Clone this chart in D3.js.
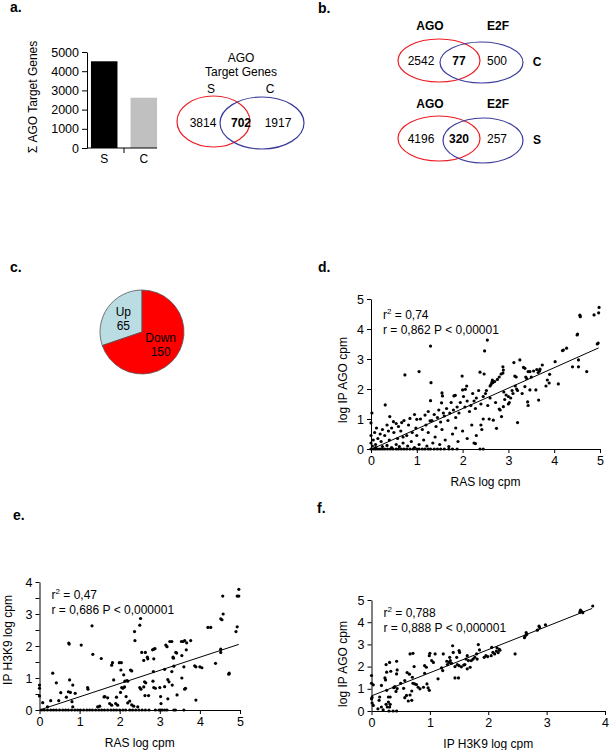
<!DOCTYPE html>
<meta charset="utf-8">
<style>
body { margin: 0; background: #fff; }
svg { display: block; }
text { font-family: "Liberation Sans", Arial, sans-serif; font-size: 12px; fill: #000; }
.letter { font-weight: bold; font-size: 14px; }
.bold { font-weight: bold; }
.axis text { font-family: "Liberation Sans", Arial, sans-serif; font-size: 12.5px; }
.axis path, .axis line { stroke: #000; stroke-width: 1; }
.dot { fill: #000; }
.fit { stroke: #000; stroke-width: 1; fill: none; }
</style>
<svg width="611" height="750"></svg>
<script src="https://d3js.org/d3.v7.min.js"></script>
<script>

// ---- data ----
var barCats = ["S", "C"];
var barVals = [4516, 2619];
var barTicks = [0, 1000, 2000, 3000, 4000, 5000];

var vennA = [3814, 702, 1917];   // S only, both, C only
var vennC = [2542, 77, 500];     // AGO only, both, E2F only (C)
var vennS = [4196, 320, 257];    // AGO only, both, E2F only (S)

var pieCats = ["Up", "Down"];
var pieVals = [65, 150];

var dStats = ["0,74", "r = 0,862 P < 0,00001"];
var eStats = ["0,47", "r = 0,686 P < 0,000001"];
var fStats = ["0,788", "r = 0,888 P < 0,000001"];

var dLine = [[0.05, 0.02], [4.97, 3.37]];
var eLine = [[0.0, 0.0], [4.97, 2.05]];
var fLine = [[0.0, 0.68], [3.78, 4.62]];

var dPoints = [
  [0.02,1.20],[0.00,0.87],[0.31,1.47],[0.41,1.08],[0.49,0.91],[0.74,2.47],[1.05,2.58],[1.30,3.43],[1.31,2.21],[1.30,1.61],
  [1.54,1.54],[1.55,1.87],[1.56,1.77],[1.81,1.77],[1.84,1.79],[1.99,2.43],[2.06,1.99],[2.09,2.10],[2.00,1.97],[2.38,2.56],
  [2.48,3.27],[2.54,3.63],[2.47,2.50],[2.62,2.15],[2.64,2.22],[2.66,2.21],[2.70,2.25],[2.65,2.30],[2.60,2.10],[2.76,2.32],
  [2.80,2.40],[2.84,2.50],[2.88,2.53],[2.89,2.63],[2.88,2.74],[3.12,2.88],[3.25,2.97],[3.14,2.43],[3.17,2.40],[3.33,2.72],
  [3.36,2.69],[3.38,2.40],[3.40,2.35],[3.43,2.58],[3.47,2.58],[3.50,2.40],[3.55,2.60],[3.62,2.65],[3.65,2.55],[3.68,2.60],
  [3.69,2.66],[3.74,2.80],[3.85,2.30],[3.89,2.20],[3.82,2.10],[3.90,2.49],[4.02,2.91],[4.09,2.17],[4.18,3.28],[4.20,3.30],
  [4.27,3.36],[4.40,2.74],[4.50,3.80],[4.51,3.83],[4.53,2.97],[4.53,2.74],[4.56,4.46],[4.57,4.41],[4.71,2.58],[4.87,4.47],
  [4.94,3.50],[4.96,3.53],[4.97,4.54],[4.98,4.72],
  [3.66,1.63],[3.42,1.57],[3.43,1.45],[3.47,1.97],[3.60,1.97],[3.36,2.08],[3.30,1.85],[3.15,2.10],[3.18,2.00],[3.20,1.95],
  [3.10,1.85],[3.08,1.95],[3.05,1.70],[3.00,1.75],[2.95,1.80],[2.92,1.65],[2.90,1.90],[2.89,1.41],[2.82,1.30],[2.80,1.33],
  [3.00,1.50],[3.02,1.55],[2.85,1.08],[3.20,0.88],[2.58,1.00],[2.67,0.96],[2.74,0.69],[2.45,1.00],[2.40,0.80],[2.42,0.65],
  [2.72,1.55],[2.60,1.70],[2.55,1.45],[2.50,1.85],[2.52,1.95],[2.45,1.75],[2.40,1.50],[2.35,1.95],[2.30,1.70],[2.28,1.35],
  [2.25,1.60],[2.22,1.85],[2.18,1.45],[2.15,1.25],[2.10,1.60],[2.05,1.40],[2.02,1.75],[1.95,1.55],[1.92,1.20],[1.88,1.40],
  [1.85,1.05],[1.80,1.30],[1.75,1.55],[1.72,1.20],[1.68,0.95],[1.65,1.35],[1.60,1.10],[1.58,1.20],[1.52,0.90],[1.48,1.30],
  [1.45,1.05],[1.42,0.75],[1.38,1.15],[1.33,0.95],[1.29,0.94],[1.25,1.25],[1.20,0.80],[1.18,1.13],[1.12,0.65],[1.08,1.00],
  [1.00,0.99],[0.98,0.70],[0.95,1.15],[0.90,0.55],[0.85,1.02],[0.82,0.80],[0.78,0.45],[0.72,0.95],[0.67,0.88],[0.65,0.60],
  [0.60,0.75],[0.58,0.35],[0.55,0.85],[0.50,0.55],[0.45,0.70],[0.40,0.30],[0.38,0.60],[0.35,0.80],[0.30,0.45],[0.25,0.65],
  [0.22,0.25],[0.20,0.50],[0.15,0.35],[0.12,0.70],[0.10,0.15],[0.08,0.55],[0.05,0.30],[0.03,0.10],[0.00,0.45],[0.00,0.20],
  [0.10,0.05],[0.25,0.08],[0.35,0.12],[0.45,0.05],[0.55,0.15],[0.62,0.08],[0.70,0.20],[0.80,0.10],[0.88,0.25],[0.95,0.05],
  [1.05,0.15],[1.15,0.30],[1.22,0.10],[1.35,0.20],[1.40,0.40],[1.50,0.15],[1.62,0.30],[1.70,0.08],[1.78,0.50],[1.90,0.25],
  [2.00,0.60],[2.10,0.35],[2.20,0.80],[2.30,0.45],[1.00,0.45],[1.25,0.55],[1.55,0.65],[1.85,0.70],[0.70,0.40],[2.25,0.20],
  [2.28,0.18],
  [0.00,0],[0.05,0],[0.10,0],[0.15,0],[0.20,0],[0.25,0],[0.30,0],[0.36,0],[0.42,0],[0.48,0],[0.55,0],[0.60,0],[0.66,0],
  [0.72,0],[0.78,0],[0.85,0],[0.92,0],[1.00,0],[1.05,0],[1.12,0],[1.18,0],[1.25,0],[1.30,0],[1.38,0],[1.45,0],[1.52,0],
  [1.60,0],[1.70,0],[1.78,0],[1.88,0],[2.38,0],[2.45,0]
];

var ePoints = [
  [0.05,0],[0.12,0],[0.20,0],[0.28,0],[0.35,0],[0.42,0],[0.50,0],[0.58,0],[0.65,0],[0.72,0],[0.80,0],[0.88,0],[0.95,0],
  [1.02,0],[1.10,0],[1.18,0],[1.25,0],[1.32,0],[1.40,0],[1.48,0],[1.55,0],[1.62,0],[1.70,0],[1.78,0],[1.85,0],[1.92,0],
  [2.00,0],[2.08,0],[2.15,0],[2.25,0],[2.32,0],[2.40,0],[2.48,0],[2.56,0],[2.64,0],[2.73,0],[2.89,0],[2.98,0],[3.02,0],
  [3.06,0],[3.12,0],[3.18,0],[3.35,0],[3.39,0],[3.60,0],
  [0.00,0.78],[0.00,0.68],[0.00,0.44],[0.08,0.23],[0.20,0.10],[0.28,0.29],[0.33,1.15],[0.42,0.85],[0.48,0.29],[0.53,0.54],
  [0.67,0.40],[0.73,2.09],[0.74,2.06],[0.75,0.94],[0.72,0.57],[0.77,0.55],[0.83,0.78],[0.81,0.26],[0.83,0.10],[0.89,0.52],
  [1.04,2.03],[1.20,0.70],[1.21,0.65],[1.31,2.63],[1.33,1.74],[1.45,0.10],[1.54,1.61],[1.61,0.41],[1.63,0.42],[1.80,1.40],
  [1.82,1.48],[1.80,0.15],[1.85,0.94],[1.99,1.48],[2.04,1.48],[2.03,1.25],[2.05,0.70],[2.08,0.68],[2.12,0.72],[2.13,0.90],
  [2.16,0.42],[2.18,0.92],[2.27,1.25],[2.30,1.22],[2.30,0.16],[2.37,2.45],[2.38,2.17],[2.45,0.10],[2.52,2.86],[2.50,2.65],
  [2.55,1.80],[2.60,1.55],[2.50,0.70],[2.53,0.65],[2.60,0.72],[2.63,0.45],[2.64,1.80],[2.65,0.85],[2.62,0.88],[2.69,1.65],
  [2.70,1.60],[2.72,0.45],[2.83,0.90],[2.84,1.20],[2.85,1.90],[2.88,1.92],[2.82,1.88],[2.85,1.60],[2.85,0.70],[2.89,0.68],
  [3.00,0.70],[3.02,0.42],[3.03,0.20],[3.12,1.27],[3.12,0.73],[3.15,2.03],[3.18,1.98],[3.20,0.95],[3.23,0.88],[3.20,0.35],
  [3.25,2.14],[3.30,2.14],[3.30,1.20],[3.34,1.62],[3.33,1.65],[3.35,1.37],[3.31,0.78],[3.40,1.80],[3.42,1.78],[3.43,0.47],
  [3.54,2.14],[3.58,2.14],[3.55,1.70],[3.55,1.00],[3.60,1.35],[3.62,2.17],[3.64,0.68],[3.62,0.65],[3.66,1.88],[3.67,2.10],
  [3.77,2.17],[3.87,1.38],[3.90,1.35],[3.90,0.31],[4.00,1.35],[4.05,1.32],[4.20,2.58],[4.27,2.58],[4.39,1.46],[4.52,1.90],
  [4.52,1.80],[4.52,2.85],[4.55,2.82],[4.58,3.00],[4.57,3.56],[4.73,1.15],[4.72,1.12],[4.90,2.45],[4.93,2.60],[4.93,3.56],
  [4.97,3.56],[4.97,3.77],
  [1.90,0.20],[1.95,0.15],[2.20,0.22],[2.25,0.28],[2.35,0.12],[1.75,0.20],[1.50,0.12],[1.70,0.38],[1.92,0.40],[2.02,0.55],
  [2.10,1.10],[2.20,0.90]
];

var fPoints = [
  [3.79,4.73],[3.58,4.54],[3.60,4.48],[3.62,4.43],[3.57,4.45],[2.98,3.88],[2.87,3.82],[2.88,3.76],[2.84,3.64],[2.65,3.53],
  [2.66,3.45],[2.63,3.37],[2.62,3.30],[2.46,2.57],[2.15,2.85],[2.19,2.78],[2.14,2.70],[2.17,2.63],[2.20,2.74],[2.06,2.87],
  [2.08,2.64],[2.05,2.49],[2.11,2.57],[1.99,2.45],[1.93,2.42],[1.96,2.49],[1.83,2.99],[1.85,2.75],[1.80,2.57],[1.77,2.42],
  [1.81,2.34],[1.74,2.34],[1.71,2.27],[1.64,2.49],[1.62,2.34],[1.66,2.27],[1.58,2.07],[1.54,1.99],[1.60,2.09],[1.69,1.97],
  [1.64,1.90],[1.47,2.09],[1.50,2.04],[1.40,2.64],[1.46,2.42],[1.43,2.00],[1.34,2.42],[1.35,2.27],[1.33,2.19],[1.37,2.15],
  [1.29,2.24],[1.30,2.09],[1.39,2.94],[1.50,2.72],[1.51,2.64],[1.43,1.49],[1.49,1.49],[1.23,2.57],[1.20,1.94],[1.22,1.82],
  [1.14,1.45],[1.09,2.57],[1.03,2.27],[1.06,2.19],[1.00,2.60],[0.99,2.49],[0.94,1.97],[0.91,2.04],[0.91,1.70],[0.95,1.22],
  [0.97,1.04],[0.99,0.93],[0.89,1.07],[0.83,1.00],[0.80,1.07],[0.74,1.22],[0.71,1.25],[0.77,1.19],[0.70,1.52],[0.66,2.57],
  [0.71,2.60],[0.73,2.00],[0.61,1.73],[0.65,1.66],[0.69,0.90],[0.66,0.72],[0.57,1.37],[0.60,0.70],[0.57,0.60],[0.63,0.45],
  [0.69,0.48],[0.44,1.85],[0.43,1.67],[0.44,1.01],[0.42,0.88],[0.43,2.24],[0.32,0.63],[0.29,0.63],[0.25,2.09],[0.26,1.75],
  [0.23,1.49],[0.24,1.40],[0.31,2.19],[0.33,1.79],[0.17,1.15],[0.14,0.63],[0.13,0.48],[0.26,0.93],[0.29,0.40],[0.25,0.30],
  [0.27,0.18],[0.32,0.30],[0.31,0.18],[0.37,0.00],[0.43,0.00],[0.30,0.00],[0.00,1.60],[0.00,1.25],[0.03,1.18],[0.01,0.61],
  [0.00,0.55],[0.01,0.36],[0.03,0.25],[0.11,0.10],[0.17,0.18],[0.20,0.05],[0.38,1.05],[0.40,1.10],[0.50,1.25],[0.55,1.02]
];

var svg = d3.select("svg");

// panel letters
[["a.", 10, 12], ["b.", 318, 13], ["c.", 10, 272], ["d.", 318, 272], ["e.", 13, 520], ["f.", 317, 513]]
  .forEach(function(l) {
    svg.append("text").attr("class", "letter").attr("x", l[1]).attr("y", l[2]).text(l[0]);
  });

// ---- a: bar chart ----
var ga = svg.append("g");
var xa = d3.scaleBand().domain(barCats).range([87, 161]).paddingInner(0.33).paddingOuter(0.1);
var ya = d3.scaleLinear().domain([0, 5000]).range([148, 52]);

ga.selectAll("rect").data(barVals).enter().append("rect")
    .attr("x", function(d, i) { return xa(barCats[i]); })
    .attr("width", xa.bandwidth())
    .attr("y", function(d) { return ya(d); })
    .attr("height", function(d) { return ya(0) - ya(d); })
    .attr("fill", function(d, i) { return i == 0 ? "#000" : "#c0c0c0"; });

ga.append("g").attr("class", "axis").attr("transform", "translate(87,0)")
    .call(d3.axisLeft(ya).tickValues(barTicks).tickFormat(d3.format("d"))
      .tickSize(5).tickSizeOuter(0).tickPadding(3))
    .attr("font-size", null).attr("font-family", null);

var aEnd = xa("C") + xa.bandwidth();
var aMid = (xa("S") + xa.bandwidth() + xa("C")) / 2;
ga.append("line").attr("x1", 87).attr("x2", aEnd).attr("y1", 148).attr("y2", 148).attr("stroke", "#000");
ga.append("line").attr("x1", aMid).attr("x2", aMid).attr("y1", 148).attr("y2", 153).attr("stroke", "#000");
ga.selectAll(".blab").data(barCats).enter().append("text")
    .attr("x", function(d) { return xa(d) + xa.bandwidth() / 2; })
    .attr("y", 163).attr("text-anchor", "middle").attr("font-size", 12.5).text(function(d) { return d; });
ga.append("text").attr("transform", "translate(33,97) rotate(-90)")
    .attr("text-anchor", "middle").attr("dy", "0.35em").attr("font-size", 12.5).text("Σ AGO Target Genes");

// venn helper
function venn(g, cx1, cy1, rx1, ry1, cx2, cy2, rx2, ry2) {
  g.append("ellipse").attr("cx", cx1).attr("cy", cy1).attr("rx", rx1).attr("ry", ry1)
      .attr("fill", "none").attr("stroke", "#ee1c24").attr("stroke-width", 1.2);
  g.append("ellipse").attr("cx", cx2).attr("cy", cy2).attr("rx", rx2).attr("ry", ry2)
      .attr("fill", "none").attr("stroke", "#3c3c9c").attr("stroke-width", 1.2);
}
function vennNums(g, vals, xs, y) {
  g.selectAll(null).data(vals).enter().append("text")
      .attr("x", function(d, i) { return xs[i]; }).attr("y", y)
      .attr("text-anchor", "middle").attr("font-size", 12.5)
      .attr("class", function(d, i) { return i == 1 ? "bold" : null; })
      .text(function(d) { return d; });
}

// a: venn
var gv = svg.append("g");
gv.append("text").attr("x", 241).attr("y", 62).attr("text-anchor", "middle").text("AGO");
gv.append("text").attr("x", 241).attr("y", 76).attr("text-anchor", "middle").text("Target Genes");
gv.append("text").attr("x", 211).attr("y", 93).attr("text-anchor", "middle").attr("font-size", 12.5).text("S");
gv.append("text").attr("x", 270).attr("y", 93).attr("text-anchor", "middle").attr("font-size", 12.5).text("C");
venn(gv, 213.5, 121.5, 36.5, 25.5, 262, 123, 42, 26);
vennNums(gv, vennA, [203, 241, 278], 127);

// ---- b: venns ----
var gb = svg.append("g");
[[vennC, "C", 0], [vennS, "S", 78]].forEach(function(v) {
  var off = v[2];
  gb.append("text").attr("class", "bold").attr("font-size", 11.5).attr("x", 430).attr("y", 30 + off).attr("text-anchor", "middle").text("AGO");
  gb.append("text").attr("class", "bold").attr("font-size", 11.5).attr("x", 498).attr("y", 30 + off).attr("text-anchor", "middle").text("E2F");
  venn(gb, 439, 60.5 + off, 41, 21.5 + (off ? 1 : 0), 481.5 + (off ? 1.5 : 0), 62.5 + off, 41.5 - (off ? 1.5 : 0), 20.5 + (off ? 2 : 0));
  vennNums(gb, v[0], [421, 459, 497], 65 + off);
  gb.append("text").attr("class", "bold").attr("font-size", 13).attr("x", 537).attr("y", 66 + off).attr("text-anchor", "middle").text(v[1]);
});

// ---- c: pie ----
var gc = svg.append("g").attr("transform", "translate(142,332)");
var total = d3.sum(pieVals);
var pie = d3.pie().sort(null)
    .startAngle(-2 * Math.PI * pieVals[0] / total)
    .endAngle(2 * Math.PI - 2 * Math.PI * pieVals[0] / total);
var arc = d3.arc().innerRadius(0).outerRadius(42);
var labArc = d3.arc().innerRadius(23).outerRadius(23);
var arcs = pie(pieVals);
gc.selectAll("path").data(arcs).enter().append("path")
    .attr("d", arc)
    .attr("fill", function(d, i) { return i == 0 ? "#b9dde3" : "#ff0000"; })
    .attr("stroke", "#555").attr("stroke-width", 0.8);
arcs.forEach(function(a, i) {
  var c = labArc.centroid(a);
  gc.append("text").attr("x", c[0]).attr("y", c[1] - 3).attr("text-anchor", "middle")
      .attr("font-size", 12.5).text(pieCats[i]);
  gc.append("text").attr("x", c[0]).attr("y", c[1] + 11).attr("text-anchor", "middle")
      .attr("font-size", 12.5).text(pieVals[i]);
});

// ---- scatter panels ----
function scatter(pts, fit, stats, o) {
  var g = svg.append("g");
  var x = d3.scaleLinear().domain([0, o.xmax]).range([o.left, o.right]);
  var y = d3.scaleLinear().domain([0, o.ymax]).range([o.bottom, o.top]);

  g.append("g").attr("class", "axis").attr("transform", "translate(0," + o.bottom + ")")
      .call(d3.axisBottom(x).tickValues(d3.range(0, o.xmax + 1)).tickFormat(d3.format("d"))
        .tickSize(4).tickSizeOuter(0).tickPadding(3))
      .attr("font-size", null).attr("font-family", null);
  g.append("g").attr("class", "axis").attr("transform", "translate(" + o.left + ",0)")
      .call(d3.axisLeft(y).tickValues(o.yticks).tickSize(4).tickSizeOuter(0).tickPadding(3)
        .tickFormat(function(d) { return d % 1 === 0 ? d : ""; }))
      .attr("font-size", null).attr("font-family", null);

  g.append("path").attr("class", "fit")
      .attr("d", d3.line().x(function(d) { return x(d[0]); }).y(function(d) { return y(d[1]); })(fit));

  g.selectAll("circle").data(pts).enter().append("circle").attr("class", "dot")
      .attr("cx", function(d) { return x(d[0]); })
      .attr("cy", function(d) { return y(d[1]); })
      .attr("r", 1.6);

  var t = g.append("text").attr("x", o.left + 12).attr("y", o.statY).attr("font-size", 12.5);
  t.append("tspan").text("r");
  t.append("tspan").attr("dy", -5).attr("font-size", 8).text("2");
  t.append("tspan").attr("dy", 5).text(" = " + stats[0]);
  g.append("text").attr("x", o.left + 12).attr("y", o.statY + 15).attr("font-size", 12.5).text(stats[1]);

  g.append("text").attr("x", (o.left + o.right) / 2).attr("y", o.bottom + 37)
      .attr("text-anchor", "middle").attr("font-size", 12.5).text(o.xlab);
  g.append("text").attr("transform", "translate(" + o.ylabX + "," + o.ylabY + ") rotate(-90)")
      .attr("text-anchor", "middle").attr("dy", "0.35em").attr("font-size", 12.5).text(o.ylab);
}

scatter(dPoints, dLine, dStats, {
  left: 371, right: 600, top: 299, bottom: 449, xmax: 5, ymax: 5,
  yticks: [0, 1, 2, 3, 4, 5], statY: 319,
  xlab: "RAS log cpm", ylab: "log IP AGO cpm", ylabX: 343, ylabY: 380
});

scatter(ePoints, eLine, eStats, {
  left: 39.5, right: 240, top: 582, bottom: 710, xmax: 5, ymax: 4,
  yticks: [0, 0.5, 1, 1.5, 2, 2.5, 3, 3.5, 4], statY: 599,
  xlab: "RAS log cpm", ylab: "IP H3K9 log cpm", ylabX: 8, ylabY: 640
});

scatter(fPoints, fLine, fStats, {
  left: 371.5, right: 605, top: 600, bottom: 711, xmax: 4, ymax: 5,
  yticks: [0, 1, 2, 3, 4, 5], statY: 617,
  xlab: "IP H3K9 log cpm", ylab: "log IP AGO cpm", ylabX: 343, ylabY: 664
});

</script>
